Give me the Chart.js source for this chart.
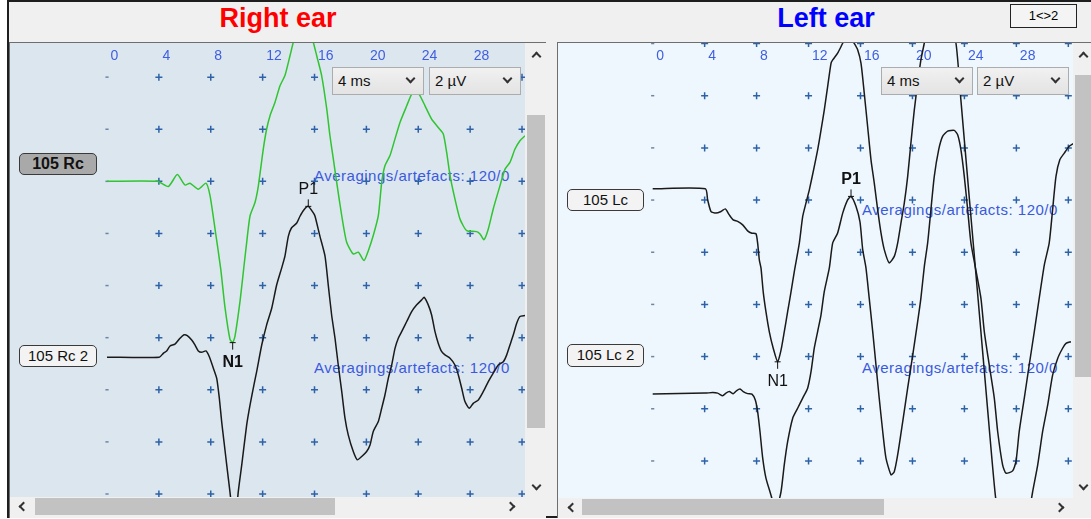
<!DOCTYPE html>
<html>
<head>
<meta charset="utf-8">
<title>Right ear / Left ear</title>
<script src="https://cdn.jsdelivr.net/npm/chart.js@4.4.1/dist/chart.umd.min.js"></script>
<style>
  body{margin:0;width:1091px;height:519px;position:relative;overflow:hidden;background:#fff;font-family:"Liberation Sans",Arial,sans-serif;}
  .a{position:absolute;box-sizing:border-box;}
  #win{left:7px;top:0;width:1084px;height:518px;background:#f0f0f0;border-top:2px solid #1e1e1e;border-left:2px solid #1e1e1e;border-bottom:2px solid #1e1e1e;}
  .title{top:2px;height:32px;line-height:32px;font-size:27px;font-weight:bold;text-align:center;width:240px;}
  .frame{border-top:1px solid #6e6e6e;border-left:1px solid #6e6e6e;background:#f0f0f0;}
  .plot{z-index:1;}
  .info{z-index:2;font-size:15px;letter-spacing:0.5px;color:#3a5ade;white-space:nowrap;line-height:18px;}
  canvas{position:absolute;z-index:3;}
  .tag{z-index:4;height:22px;width:78px;border:1.5px solid #3a3a3a;border-radius:5px;background:#f3f3f3;font-size:15px;text-align:center;line-height:19px;color:#111;}
  .dd{z-index:4;top:67px;width:92px;height:28px;border:1px solid #acacac;background:linear-gradient(#f1f1f1,#e3e3e3);font-size:15px;line-height:26px;padding-left:5px;color:#111;}
  .chev{position:absolute;width:7px;height:7px;border-right:2px solid #333;border-bottom:2px solid #333;box-sizing:border-box;}
  .track{background:#f0f0f0;z-index:4;}
  .thumb{background:#c2c2c2;z-index:5;}
  .arr{z-index:6;}
</style>
</head>
<body>
<div id="win" class="a"></div>
<div class="a title" style="left:158px;color:#ff0000;">Right ear</div>
<div class="a title" style="left:706px;color:#0000ff;">Left ear</div>
<div class="a" style="left:1010px;top:4px;width:67px;height:24px;border:1px solid #222;background:#f4f4f4;font-size:13px;line-height:22px;text-align:center;">1&lt;&gt;2</div>

<!-- right ear panel -->
<div class="a frame" style="left:9px;top:42px;width:537px;height:476px;"></div>
<div class="a plot" style="left:10px;top:43px;width:515px;height:454px;background:#dce6ef;"></div>
<div class="a info" style="left:314px;top:167px;">Averagings/artefacts: 120/0</div>
<div class="a info" style="left:314px;top:359px;">Averagings/artefacts: 120/0</div>
<canvas id="rightChart" width="515" height="454" style="left:10px;top:43px;width:515px;height:454px;"></canvas>
<div class="a tag" style="left:19px;top:153px;background:#a9a9a9;font-weight:bold;font-size:16px;">105 Rc</div>
<div class="a tag" style="left:19px;top:345px;">105 Rc 2</div>
<div class="a dd" style="left:332px;">4 ms<span class="chev" style="right:9px;top:7px;transform:rotate(45deg);"></span></div>
<div class="a dd" style="left:429px;">2 µV<span class="chev" style="right:9px;top:7px;transform:rotate(45deg);"></span></div>
<div class="a track" style="left:525px;top:43px;width:21px;height:455px;"></div>
<div class="a thumb" style="left:527px;top:115px;width:18px;height:313px;"></div>
<div class="a track" style="left:10px;top:497px;width:536px;height:19px;"></div>
<div class="a thumb" style="left:35px;top:498px;width:300px;height:17px;"></div>
<span class="a chev arr" style="left:533px;top:53px;transform:rotate(225deg);"></span>
<span class="a chev arr" style="left:533px;top:482px;transform:rotate(45deg);"></span>
<span class="a chev arr" style="left:20px;top:503px;transform:rotate(135deg);"></span>
<span class="a chev arr" style="left:507px;top:503px;transform:rotate(-45deg);"></span>

<!-- left ear panel -->
<div class="a frame" style="left:557px;top:42px;width:534px;height:476px;"></div>
<div class="a plot" style="left:558px;top:43px;width:515px;height:455px;background:#eef7fd;"></div>
<div class="a info" style="left:862px;top:201px;">Averagings/artefacts: 120/0</div>
<div class="a info" style="left:862px;top:359px;">Averagings/artefacts: 120/0</div>
<canvas id="leftChart" width="515" height="455" style="left:558px;top:43px;width:515px;height:455px;"></canvas>
<div class="a tag" style="left:567px;top:189px;width:77px;">105 Lc</div>
<div class="a tag" style="left:567px;top:344px;width:77px;height:23px;">105 Lc 2</div>
<div class="a dd" style="left:881px;">4 ms<span class="chev" style="right:9px;top:7px;transform:rotate(45deg);"></span></div>
<div class="a dd" style="left:977px;">2 µV<span class="chev" style="right:9px;top:7px;transform:rotate(45deg);"></span></div>
<div class="a track" style="left:1073px;top:43px;width:18px;height:455px;"></div>
<div class="a thumb" style="left:1075px;top:75px;width:16px;height:302px;"></div>
<div class="a track" style="left:558px;top:498px;width:533px;height:18px;"></div>
<div class="a thumb" style="left:582px;top:499px;width:302px;height:16px;"></div>
<span class="a chev arr" style="left:1080px;top:53px;transform:rotate(225deg);"></span>
<span class="a chev arr" style="left:1080px;top:482px;transform:rotate(45deg);"></span>
<span class="a chev arr" style="left:569px;top:504px;transform:rotate(135deg);"></span>
<span class="a chev arr" style="left:1056px;top:504px;transform:rotate(-45deg);"></span>

<script>
// axis ticks and grid
const timeTicks = [0, 4, 8, 12, 16, 20, 24, 28];
const gridTimes = [0, 4, 8, 12, 16, 20, 24, 28, 32];
const gridLevels = [0, 2, 4, 6, 8, 10, 12, 14, 16];

// Right ear - 105 Rc (green), amplitude in µV relative to its baseline
const rcTime = [0, 3.88, 4.73, 5.42, 6.01, 6.40, 7.04, 7.63, 7.94, 8.33, 8.77, 9.10, 9.48, 9.69, 9.87, 10.26, 10.56, 10.77, 11.03, 11.41, 11.67, 12.05, 12.31, 12.57, 12.95, 13.34, 13.72, 14.11, 14.36, 14.7, 15.1, 15.5, 15.91, 16.17, 16.55, 16.94, 17.19, 17.45, 17.71, 18.10, 18.48, 18.99, 19.38, 19.82, 20.15, 20.53, 20.92, 21.18, 21.43, 21.82, 22.20, 22.59, 23.11, 23.49, 23.8, 24.13, 24.52, 25.03, 25.54, 25.93, 26.19, 26.45, 26.83, 27.22, 27.73, 28.50, 28.76, 29.07, 29.40, 29.78, 30.30, 30.69, 31.07, 31.46, 31.84, 32.23];
const rcValue = [0, 0, -0.20, 0.26, -0.14, -0.07, -0.30, -0.07, -0.54, -1.83, -3.37, -4.85, -6.06, -6.19, -5.94, -4.59, -3.26, -2.34, -1.32, -0.81, -0.17, 1.24, 2.01, 2.52, 3.03, 3.67, 4.06, 4.82, 5.33, 5.9, 6.2, 6.0, 5.33, 4.82, 4.06, 2.79, 1.75, 0.86, -0.04, -1.32, -2.34, -2.79, -2.72, -3.04, -2.66, -2.08, -1.32, -0.04, 0.60, 0.99, 1.62, 2.26, 2.90, 3.35, 3.5, 3.29, 2.90, 2.39, 2.07, 1.82, 1.11, 0.22, -0.68, -1.45, -1.89, -1.93, -2.02, -2.24, -1.83, -1.06, -0.17, 0.47, 0.73, 1.24, 1.56, 1.75];

// Right ear - 105 Rc 2 (black)
const rc2Time = [0, 4.03, 4.34, 4.60, 4.86, 5.24, 5.63, 5.94, 6.19, 6.53, 6.78, 7.04, 7.30, 7.63, 7.89, 8.20, 8.46, 8.66, 8.84, 9.02, 9.23, 9.48, 9.83, 10.12, 10.39, 10.77, 11.03, 11.33, 11.54, 11.93, 12.31, 12.70, 13.08, 13.47, 13.72, 13.98, 14.22, 14.63, 14.88, 15.19, 15.52, 15.91, 16.04, 16.42, 16.81, 17.06, 17.32, 17.58, 17.83, 18.10, 18.35, 18.60, 18.99, 19.30, 19.64, 20.02, 20.28, 20.53, 20.92, 21.18, 21.43, 21.69, 21.95, 22.21, 22.46, 22.72, 23.11, 23.49, 23.88, 24.26, 24.46, 24.77, 25.03, 25.29, 25.54, 25.81, 26.06, 26.45, 26.83, 27.09, 27.35, 27.60, 27.93, 28.24, 28.63, 29.01, 29.40, 29.78, 30.17, 30.56, 30.82, 31.07, 31.33, 31.59, 31.84, 32.23];
const rc2Value = [0, 0, 0.15, 0.24, 0.43, 0.50, 0.73, 0.86, 0.83, 0.66, 0.47, 0.24, 0.19, 0.24, 0.02, -0.42, -0.81, -1.57, -2.47, -3.24, -4.13, -5.17, -6.6, -5.17, -4.13, -2.60, -1.83, -1.06, -0.55, 0.47, 1.24, 1.88, 2.77, 3.43, 3.88, 4.64, 4.96, 5.15, 5.41, 5.66, 5.79, 5.54, 5.41, 4.64, 3.88, 2.77, 1.62, 0.73, -0.30, -1.32, -2.34, -2.98, -3.62, -3.94, -3.81, -3.62, -3.37, -2.85, -2.47, -1.96, -1.45, -0.81, -0.30, 0.35, 0.73, 0.98, 1.37, 1.75, 2.01, 2.20, 2.30, 2.01, 1.62, 0.98, 0.54, 0.21, 0.09, -0.04, -0.30, -0.68, -1.19, -1.70, -1.96, -1.77, -1.64, -1.32, -0.94, -0.61, -0.30, -0.17, 0.09, 0.47, 0.86, 1.30, 1.56, 1.60];

// Left ear - 105 Lc (black)
const lcTime = [0, 4.05, 4.23, 4.49, 4.87, 5.26, 5.59, 5.90, 6.20, 6.54, 6.93, 7.31, 7.64, 7.95, 8.08, 8.21, 8.34, 8.51, 8.72, 8.98, 9.28, 9.62, 9.88, 10.13, 10.39, 10.65, 10.90, 11.29, 11.55, 11.80, 12.06, 12.44, 12.70, 12.96, 13.21, 13.47, 13.73, 13.86, 14.24, 14.63, 15.05, 15.51, 15.78, 16.04, 16.29, 16.55, 16.81, 17.06, 17.32, 17.58, 17.83, 18.21, 18.60, 18.86, 19.11, 19.37, 19.63, 19.88, 20.14, 20.40, 20.65, 20.91, 21.4, 22.0, 22.7, 23.35, 23.73, 24.39, 25.06, 25.72, 26.38, 27.0, 27.75, 28.5, 29.25, 29.64, 30.02, 30.41, 30.79, 31.18, 31.56, 31.82, 32.20];
const lcValue = [0, 0, -0.42, -0.87, -0.93, -0.87, -0.77, -1.00, -1.19, -1.25, -1.38, -1.61, -1.70, -1.72, -2.08, -2.72, -3.04, -3.95, -4.71, -5.48, -6.11, -6.63, -6.18, -5.48, -4.71, -3.95, -3.18, -2.08, -1.06, -0.55, -0.04, 0.85, 1.49, 2.25, 3.02, 3.92, 4.81, 4.94, 5.20, 5.58, 5.95, 5.58, 5.33, 4.81, 3.66, 2.38, 1.10, 0.22, -0.80, -1.70, -2.33, -2.84, -2.59, -2.08, -1.32, -0.55, 0.47, 1.75, 3.02, 4.05, 4.94, 5.58, 6.8, 7.3, 6.8, 5.58, 3.40, -0.43, -4.26, -8.07, -11.74, -13.8, -14.6, -13.8, -11.62, -10.59, -9.31, -8.29, -7.14, -6.50, -6.11, -5.92, -5.86];

// Left ear - 105 Lc 2 (black)
const lc2Time = [0, 4.05, 4.62, 5.00, 5.39, 5.64, 5.90, 6.20, 6.47, 6.72, 6.97, 7.31, 7.64, 7.90, 8.08, 8.26, 8.47, 8.72, 9.03, 9.49, 9.88, 10.13, 10.39, 10.78, 11.16, 11.55, 11.93, 12.19, 12.44, 12.70, 12.96, 13.21, 13.60, 13.86, 14.24, 14.63, 15.01, 15.27, 15.65, 15.96, 16.17, 16.42, 16.67, 16.94, 17.19, 17.44, 17.71, 17.96, 18.35, 18.60, 18.86, 19.25, 19.63, 20.02, 20.40, 20.65, 20.91, 21.17, 21.42, 21.68, 22.02, 22.32, 22.71, 23.22, 23.48, 23.73, 23.99, 24.25, 24.50, 24.81, 25.27, 25.53, 25.91, 26.30, 26.56, 26.94, 27.20, 27.71, 27.97, 28.22, 28.61, 28.99, 29.38, 29.76, 30.15, 30.53, 30.79, 31.05, 31.35, 31.69, 32.07, 32.4];
const lc2Value = [0, 0.03, 0.05, 0.03, -0.07, 0.03, 0.09, 0.01, 0.13, 0.19, 0.09, 0.01, -0.01, -0.23, -0.68, -1.44, -2.46, -3.23, -3.75, -4.44, -3.75, -2.72, -1.83, -0.93, -0.55, -0.16, 0.22, 0.85, 1.75, 2.39, 3.03, 3.92, 4.83, 5.79, 6.17, 6.93, 7.44, 7.57, 7.19, 6.59, 5.53, 4.83, 3.67, 2.39, 1.11, -0.16, -1.44, -2.46, -3.10, -2.98, -2.34, -1.06, 0.22, 1.49, 2.77, 3.67, 4.87, 5.79, 7.06, 8.34, 9.36, 9.87, 10.07, 10.10, 9.93, 9.36, 8.34, 7.06, 5.79, 4.94, 3.67, 2.39, 1.11, -0.16, -1.44, -2.72, -3.04, -2.95, -2.59, -1.44, -0.16, 1.11, 2.39, 3.67, 4.94, 5.79, 7.06, 8.34, 8.98, 9.23, 9.49, 9.6];

// trace baselines on the panel axis (µV)
const rightBaselines = [12.0, 5.25];
const leftBaselines = [10.43, 2.57];

// marked peaks: name, trace index, latency (ms)
const rightPeakNames = ['N1', 'P1'];
const rightPeakTrace = [0, 1];
const rightPeakTimes = [9.69, 15.52];
const leftPeakNames = ['N1', 'P1'];
const leftPeakTrace = [0, 1];
const leftPeakTimes = [9.62, 15.27];

const tickLabels = {
  id: 'tickLabels',
  beforeDatasetsDraw(chart) {
    const {ctx, chartArea, scales} = chart;
    ctx.save();
    ctx.font = '14px "Liberation Sans", Arial, sans-serif';
    ctx.fillStyle = '#3f5ee0';
    ctx.textAlign = 'left';
    ctx.textBaseline = 'middle';
    timeTicks.forEach(v => ctx.fillText(String(v), scales.x.getPixelForValue(v) + 3.5, chartArea.top + 13));
    ctx.restore();
  }
};

const peakMarks = {
  id: 'peakMarks',
  afterDatasetsDraw(chart, args, opts) {
    const {ctx, scales} = chart;
    ctx.save();
    opts.names.forEach((name, i) => {
      const tr = opts.traces[opts.trace[i]];
      const k = tr.time.indexOf(opts.times[i]);
      const px = scales.x.getPixelForValue(tr.time[k]);
      const py = scales.y.getPixelForValue(tr.base + tr.value[k]);
      const below = name === 'N1';
      ctx.strokeStyle = '#111';
      ctx.lineWidth = 1;
      ctx.beginPath();
      ctx.moveTo(px - 3, py); ctx.lineTo(px + 3, py);
      ctx.moveTo(px, py); ctx.lineTo(px, below ? py + 7 : py - 7);
      ctx.stroke();
      ctx.fillStyle = '#111';
      ctx.font = (opts.bold[i] ? 'bold ' : '') + '16px "Liberation Sans", Arial, sans-serif';
      ctx.textAlign = 'center';
      ctx.textBaseline = 'middle';
      ctx.fillText(name, px, below ? py + 20 : py - 17);
    });
    ctx.restore();
  }
};

function buildPanel(id, xr, yr, traces, peaks) {
  const grid = [];
  gridTimes.forEach(t => gridLevels.forEach(v => grid.push({x: t, y: v})));
  const datasets = traces.map(tr => ({
    data: tr.time.map((t, i) => ({x: t, y: tr.base + tr.value[i]})),
    showLine: true,
    borderColor: tr.color,
    borderWidth: 1.5,
    pointRadius: 0,
    tension: 0.2
  }));
  datasets.push({
    data: grid,
    showLine: false,
    pointStyle: c => (c.raw && c.raw.x === 0) ? 'line' : 'cross',
    pointRadius: c => (c.raw && c.raw.x === 0) ? 1.6 : 3.5,
    borderColor: c => (c.raw && c.raw.x === 0) ? '#6d86a8' : '#2d62a8',
    borderWidth: 1.5
  });
  return new Chart(document.getElementById(id), {
    type: 'scatter',
    data: {datasets},
    options: {
      responsive: false,
      animation: false,
      events: [],
      layout: {padding: 0, autoPadding: false},
      scales: {
        x: {type: 'linear', display: false, min: xr[0], max: xr[1]},
        y: {type: 'linear', display: false, min: yr[0], max: yr[1]}
      },
      plugins: {legend: {display: false}, tooltip: {enabled: false}, peakMarks: peaks}
    },
    plugins: [tickLabels, peakMarks]
  });
}

const rightTraces = [
  {time: rcTime, value: rcValue, base: rightBaselines[0], color: '#2fc52f'},
  {time: rc2Time, value: rc2Value, base: rightBaselines[1], color: '#1a1a1a'}
];
const leftTraces = [
  {time: lcTime, value: lcValue, base: leftBaselines[0], color: '#1a1a1a'},
  {time: lc2Time, value: lc2Value, base: leftBaselines[1], color: '#1a1a1a'}
];

buildPanel('rightChart', [-7.48, 32.23], [-0.115, 17.31], rightTraces,
  {names: rightPeakNames, trace: rightPeakTrace, times: rightPeakTimes, traces: rightTraces, bold: [true, false]});
buildPanel('leftChart', [-7.29, 32.36], [-1.42, 16.02], leftTraces,
  {names: leftPeakNames, trace: leftPeakTrace, times: leftPeakTimes, traces: leftTraces, bold: [false, true]});
</script>
</body>
</html>
